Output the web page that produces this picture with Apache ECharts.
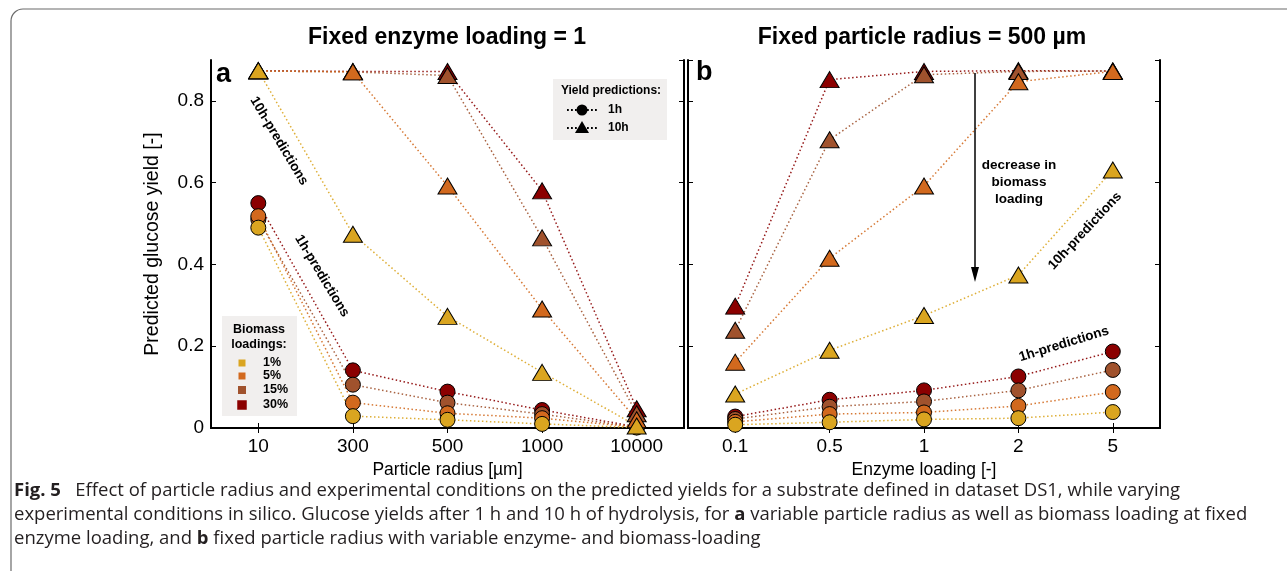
<!DOCTYPE html>
<html lang="en">
<head>
    <meta charset="UTF-8">
    <title>Fig. 5</title>
    <script src="https://cdn.jsdelivr.net/npm/echarts@6/dist/echarts.min.js"></script>
    <style>
        html, body { margin: 0; padding: 0; background: #fff; }
    </style>
</head>
<body>
<div style="width:1287px;height:571px" id="main"></div>
</body>
</html>

<script>
    var radiusCats = ['10', '300', '500', '1000', '10000'];
    var enzymeCats = ['0.1', '0.5', '1', '2', '5'];
    var loadings = ['1%', '5%', '15%', '30%'];
    var loadColors = ['#DAA520', '#D2691E', '#A0522D', '#8B0000'];

    // panel a: fixed enzyme loading, 1h and 10h predictions per biomass loading
    var a1h_1 = [0.490, 0.029, 0.020, 0.010, 0.001];
    var a1h_5 = [0.518, 0.062, 0.036, 0.024, 0.002];
    var a1h_15 = [0.510, 0.106, 0.062, 0.034, 0.002];
    var a1h_30 = [0.550, 0.141, 0.089, 0.044, 0.003];
    var a10h_1 = [0.874, 0.474, 0.273, 0.136, 0.005];
    var a10h_5 = [0.873, 0.871, 0.592, 0.291, 0.020];
    var a10h_15 = [0.873, 0.871, 0.862, 0.465, 0.035];
    var a10h_30 = [0.874, 0.872, 0.872, 0.580, 0.047];

    // panel b: fixed particle radius = 500
    var b1h_1 = [0.008, 0.014, 0.021, 0.024, 0.039];
    var b1h_5 = [0.015, 0.034, 0.038, 0.054, 0.088];
    var b1h_15 = [0.022, 0.052, 0.065, 0.092, 0.142];
    var b1h_30 = [0.028, 0.069, 0.092, 0.126, 0.187];
    var b10h_1 = [0.083, 0.190, 0.275, 0.374, 0.631];
    var b10h_5 = [0.161, 0.415, 0.592, 0.847, 0.872];
    var b10h_15 = [0.239, 0.705, 0.864, 0.872, 0.873];
    var b10h_30 = [0.298, 0.852, 0.872, 0.874, 0.873];

    var yTicks = { min: 0, max: 0.9, interval: 0.2 };

    var FONT = '"Liberation Sans", Arial, sans-serif';
    var CAP_FONT = '"Open Sans", "Noto Sans", sans-serif';

    var chartDom = document.getElementById('main');
    var myChart = echarts.init(chartDom);

    function xAx(grid, cats, pos, name) {
        return {
            gridIndex: grid,
            type: 'category',
            data: cats,
            position: pos,
            boundaryGap: true,
            axisLine: { show: true, lineStyle: { color: '#000', width: 2 } },
            axisTick: { show: true, inside: true, alignWithLabel: true, length: 5, lineStyle: { color: '#000', width: 1 } },
            axisLabel: { show: pos === 'bottom', fontSize: 19, color: '#000', margin: 9, fontFamily: FONT },
            splitLine: { show: false },
            name: name || '',
            nameLocation: 'middle',
            nameGap: 30,
            nameTextStyle: { fontSize: 17.5, color: '#000', fontFamily: FONT }
        };
    }

    function yAx(grid, pos, labels, name) {
        return {
            gridIndex: grid,
            type: 'value',
            position: pos,
            min: yTicks.min,
            max: yTicks.max,
            interval: yTicks.interval,
            axisLine: { show: true, lineStyle: { color: '#000', width: 2 } },
            axisTick: { show: true, inside: true, length: 5, lineStyle: { color: '#000', width: 1 } },
            axisLabel: { show: labels, fontSize: 19, color: '#000', margin: 7, fontFamily: FONT, showMaxLabel: false },
            splitLine: { show: false },
            name: name || '',
            nameLocation: 'middle',
            nameGap: 48,
            nameTextStyle: { fontSize: 19.5, color: '#000', fontFamily: FONT }
        };
    }

    function mkSeries(data, idx, shape, axisIdx) {
        return {
            type: 'line',
            xAxisIndex: axisIdx,
            yAxisIndex: axisIdx,
            data: data,
            symbol: shape,
            symbolSize: shape === 'triangle' ? [19, 16] : 15,
            clip: false,
            itemStyle: { color: loadColors[idx], borderColor: '#000', borderWidth: 1 },
            lineStyle: { color: loadColors[idx], width: 1.5, type: [1.5, 2.5], opacity: 0.9 },
            emphasis: { disabled: true },
            animation: false
        };
    }

    var aH1 = [a1h_1, a1h_5, a1h_15, a1h_30];
    var aH10 = [a10h_1, a10h_5, a10h_15, a10h_30];
    var bH1 = [b1h_1, b1h_5, b1h_15, b1h_30];
    var bH10 = [b10h_1, b10h_5, b10h_15, b10h_30];

    var series = [];
    // draw 30% first, 1% last (on top); circles below triangles
    for (var k = 3; k >= 0; k--) series.push(mkSeries(aH1[k], k, 'circle', 0));
    for (var k = 3; k >= 0; k--) series.push(mkSeries(bH1[k], k, 'circle', 2));
    for (var k = 3; k >= 0; k--) series.push(mkSeries(aH10[k], k, 'triangle', 0));
    for (var k = 3; k >= 0; k--) series.push(mkSeries(bH10[k], k, 'triangle', 2));

    var bold = function (size) { return 'bold ' + size + 'px ' + FONT; };

    var graphics = [
        // figure card border
        { type: 'rect', shape: { x: 11, y: 9, width: 1400, height: 700, r: 12 },
          style: { fill: 'none', stroke: '#6b6b6b', lineWidth: 1.2 }, silent: true, z: 0 },
        // panel titles
        { type: 'text', x: 447, y: 38, style: { text: 'Fixed enzyme loading = 1', font: bold(23), fill: '#000', align: 'center', verticalAlign: 'middle' } },
        { type: 'text', x: 922, y: 38, style: { text: 'Fixed particle radius = 500 µm', font: bold(23), fill: '#000', align: 'center', verticalAlign: 'middle' } },
        // panel letters
        { type: 'text', x: 216, y: 75, style: { text: 'a', font: bold(27), fill: '#000', align: 'left', verticalAlign: 'middle' }, z: 10 },
        { type: 'text', x: 696, y: 73, style: { text: 'b', font: bold(27), fill: '#000', align: 'left', verticalAlign: 'middle' }, z: 10 },
        // annotations
        { type: 'text', x: 279, y: 141, rotation: -59 * Math.PI / 180,
          style: { text: '10h-predictions', font: bold(13.5), fill: '#000', align: 'center', verticalAlign: 'middle' }, z: 10 },
        { type: 'text', x: 322, y: 276, rotation: -59 * Math.PI / 180,
          style: { text: '1h-predictions', font: bold(13.5), fill: '#000', align: 'center', verticalAlign: 'middle' }, z: 10 },
        { type: 'text', x: 1085, y: 231, rotation: 47 * Math.PI / 180,
          style: { text: '10h-predictions', font: bold(13.5), fill: '#000', align: 'center', verticalAlign: 'middle' }, z: 10 },
        { type: 'text', x: 1064, y: 344, rotation: 17 * Math.PI / 180,
          style: { text: '1h-predictions', font: bold(13.5), fill: '#000', align: 'center', verticalAlign: 'middle' }, z: 10 },
        { type: 'text', x: 1019, y: 182,
          style: { text: 'decrease in\nbiomass\nloading', font: bold(13.5), lineHeight: 17, fill: '#000', align: 'center', verticalAlign: 'middle' }, z: 10 },
        // arrow
        { type: 'line', shape: { x1: 975, y1: 73, x2: 975, y2: 272 }, style: { stroke: '#000', lineWidth: 1.5 }, z: 10 },
        { type: 'polygon', shape: { points: [[971, 267], [979, 267], [975, 282]] }, style: { fill: '#000' }, z: 10 },

        // yield predictions legend
        { type: 'rect', shape: { x: 553, y: 79, width: 114, height: 61 }, style: { fill: '#F1EFEE' }, z: 5 },
        { type: 'text', x: 611, y: 91, style: { text: 'Yield predictions:', font: bold(12), fill: '#000', align: 'center', verticalAlign: 'middle' }, z: 6 },
        { type: 'line', shape: { x1: 567, y1: 110, x2: 597, y2: 110 }, style: { stroke: '#000', lineWidth: 1.8, lineDash: [1.8, 2.2] }, z: 6 },
        { type: 'circle', shape: { cx: 582, cy: 110, r: 5.5 }, style: { fill: '#000' }, z: 7 },
        { type: 'text', x: 608, y: 110, style: { text: '1h', font: bold(12), fill: '#000', align: 'left', verticalAlign: 'middle' }, z: 6 },
        { type: 'line', shape: { x1: 567, y1: 128, x2: 597, y2: 128 }, style: { stroke: '#000', lineWidth: 1.8, lineDash: [1.8, 2.2] }, z: 6 },
        { type: 'polygon', shape: { points: [[575, 133], [589, 133], [582, 121]] }, style: { fill: '#000' }, z: 7 },
        { type: 'text', x: 608, y: 128, style: { text: '10h', font: bold(12), fill: '#000', align: 'left', verticalAlign: 'middle' }, z: 6 },

        // biomass loadings legend
        { type: 'rect', shape: { x: 222, y: 316, width: 75, height: 100 }, style: { fill: '#F1EFEE' }, z: 5 },
        { type: 'text', x: 259, y: 337, style: { text: 'Biomass\nloadings:', font: bold(12.5), lineHeight: 15, fill: '#000', align: 'center', verticalAlign: 'middle' }, z: 6 }
    ];

    var sqSizes = [7, 7, 8, 9.5];
    var rowY = [363, 376, 390, 405];
    for (var i = 0; i < loadings.length; i++) {
        graphics.push({ type: 'rect', shape: { x: 242 - sqSizes[i] / 2, y: rowY[i] - sqSizes[i] / 2, width: sqSizes[i], height: sqSizes[i] },
            style: { fill: loadColors[i] }, z: 6 });
        graphics.push({ type: 'text', x: 263, y: rowY[i], style: { text: loadings[i], font: bold(12.5), fill: '#000', align: 'left', verticalAlign: 'middle' }, z: 6 });
    }

    // caption
    var capLines = [
        '{b|Fig. 5}   Effect of particle radius and experimental conditions on the predicted yields for a substrate defined in dataset DS1, while varying',
        'experimental conditions in silico. Glucose yields after 1 h and 10 h of hydrolysis, for {b|a} variable particle radius as well as biomass loading at fixed',
        'enzyme loading, and {b|b} fixed particle radius with variable enzyme- and biomass-loading'
    ];
    var capY = [491, 515, 539];
    for (var j = 0; j < capLines.length; j++) {
        graphics.push({ type: 'text', x: 14, y: capY[j], style: {
            text: capLines[j], font: '18.5px ' + CAP_FONT, fill: '#231f20', align: 'left', verticalAlign: 'middle',
            rich: { b: { font: 'bold 18.5px ' + CAP_FONT, fill: '#231f20' } }
        } });
    }

    var option = {
        backgroundColor: '#fff',
        animation: false,
        grid: [
            { left: 211, top: 60, width: 473, height: 368, show: false },
            { left: 688, top: 60, width: 472, height: 368, show: false }
        ],
        xAxis: [
            xAx(0, radiusCats, 'bottom', 'Particle radius [µm]'),
            xAx(0, radiusCats, 'top'),
            xAx(1, enzymeCats, 'bottom', 'Enzyme loading [-]'),
            xAx(1, enzymeCats, 'top')
        ],
        yAxis: [
            yAx(0, 'left', true, 'Predicted glucose yield [-]'),
            yAx(0, 'right', false),
            yAx(1, 'left', false),
            yAx(1, 'right', false)
        ],
        series: series,
        graphic: { elements: graphics }
    };

    myChart.setOption(option);
</script>
